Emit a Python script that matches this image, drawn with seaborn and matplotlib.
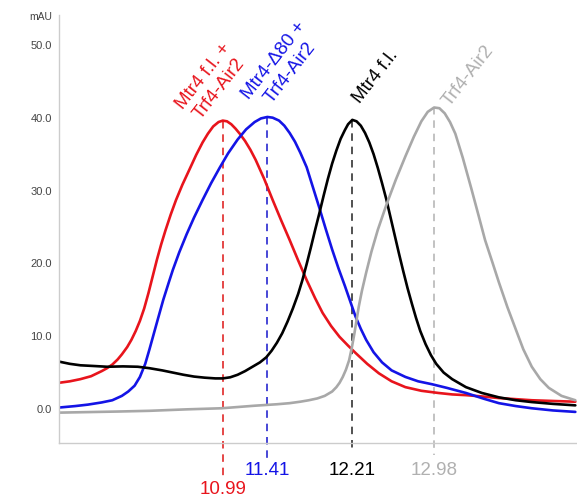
import numpy as np
import pandas as pd
import matplotlib
matplotlib.use("Agg")
import matplotlib.pyplot as plt
import seaborn as sns

# ---- data (retention time in min, absorbance in mAU) ----
red_t = [9.39, 9.45, 9.55, 9.65, 9.75, 9.85, 9.90, 9.95, 10.00, 10.04, 10.09, 10.13, 10.17, 10.21,
         10.25, 10.29, 10.33, 10.37, 10.41, 10.45, 10.50, 10.55, 10.61, 10.68, 10.74, 10.80, 10.85,
         10.90, 10.95, 10.99, 11.03, 11.07, 11.11, 11.15, 11.20, 11.25, 11.30, 11.38, 11.46, 11.54,
         11.62, 11.70, 11.78, 11.86, 11.93, 12.01, 12.09, 12.17, 12.24, 12.35, 12.46, 12.58, 12.71,
         12.86, 13.02, 13.15, 13.28, 13.45, 13.59, 13.75, 13.90, 14.10, 14.31]
red_v = [3.4, 3.6, 3.8, 4.1, 4.5, 5.2, 5.6, 6.1, 6.8, 7.5, 8.5, 9.5, 10.7, 12.1,
         13.8, 15.9, 18.2, 20.5, 22.6, 24.5, 26.7, 28.7, 30.8, 33.0, 34.9, 36.6, 37.8,
         38.8, 39.4, 39.6, 39.5, 39.1, 38.5, 37.8, 36.8, 35.6, 34.2, 31.6, 28.7, 25.9,
         23.2, 20.4, 17.7, 15.2, 13.2, 11.4, 9.9, 8.7, 7.7, 6.2, 4.9, 3.8, 3.0,
         2.5, 2.2, 2.0, 1.9, 1.7, 1.5, 1.35, 1.2, 1.1, 1.0]

blue_t = [9.39, 9.45, 9.60, 9.72, 9.85, 9.95, 10.04, 10.10, 10.16, 10.21, 10.26, 10.30, 10.34,
          10.38, 10.43, 10.48, 10.52, 10.58, 10.65, 10.72, 10.80, 10.88, 10.96, 11.04, 11.13,
          11.21, 11.29, 11.35, 11.41, 11.46, 11.52, 11.57, 11.62, 11.67, 11.72, 11.78, 11.84,
          11.90, 11.96, 12.02, 12.08, 12.14, 12.19, 12.24, 12.29, 12.34, 12.41, 12.49, 12.58,
          12.71, 12.83, 12.96, 13.10, 13.28, 13.45, 13.59, 13.75, 13.90, 14.10, 14.31]
blue_v = [0.1, 0.2, 0.4, 0.6, 0.9, 1.2, 1.8, 2.4, 3.2, 4.4, 6.2, 8.2, 10.3,
          12.4, 15.0, 17.3, 19.1, 21.5, 24.0, 26.3, 28.7, 31.0, 33.1, 35.1, 37.0,
          38.4, 39.4, 39.9, 40.1, 40.0, 39.6, 38.9, 37.9, 36.7, 35.2, 33.2, 30.4,
          27.6, 24.7, 21.9, 19.3, 16.9, 14.8, 12.7, 11.0, 9.5, 7.8, 6.4, 5.3,
          4.4, 3.8, 3.4, 2.9, 2.2, 1.4, 0.8, 0.4, 0.1, -0.2, -0.4]

black_t = [9.39, 9.45, 9.55, 9.65, 9.78, 9.90, 10.05, 10.19, 10.30, 10.42, 10.52, 10.62, 10.72,
           10.82, 10.92, 10.99, 11.06, 11.13, 11.20, 11.27, 11.34, 11.40, 11.45, 11.50, 11.55,
           11.60, 11.65, 11.70, 11.74, 11.78, 11.82, 11.86, 11.90, 11.94, 11.98, 12.02, 12.06,
           12.10, 12.14, 12.17, 12.21, 12.25, 12.29, 12.33, 12.37, 12.41, 12.45, 12.49, 12.53,
           12.57, 12.61, 12.65, 12.69, 12.73, 12.77, 12.81, 12.85, 12.90, 12.95, 13.00, 13.07,
           13.15, 13.28, 13.43, 13.59, 13.75, 13.90, 14.10, 14.31]
black_v = [6.6, 6.5, 6.2, 6.0, 5.9, 5.8, 5.85, 5.8, 5.6, 5.3, 5.0, 4.7, 4.45,
           4.3, 4.2, 4.2, 4.35, 4.7, 5.2, 5.8, 6.4, 7.1, 8.0, 9.1, 10.4,
           12.0, 13.8, 15.8, 17.7, 19.9, 22.2, 24.6, 26.9, 29.3, 31.6, 33.7, 35.5,
           37.1, 38.3, 39.1, 39.7, 39.5, 38.9, 37.9, 36.6, 35.0, 33.1, 31.0, 28.8,
           26.3, 23.8, 21.3, 18.9, 16.6, 14.5, 12.5, 10.7, 8.9, 7.4, 6.2, 5.0,
           4.1, 3.0, 2.2, 1.6, 1.2, 0.95, 0.7, 0.5]

gray_t = [9.39, 9.45, 10.00, 10.30, 10.65, 10.98, 11.29, 11.50, 11.62, 11.72, 11.80, 11.88, 11.95,
          12.02, 12.06, 12.09, 12.12, 12.15, 12.18, 12.205, 12.23, 12.25, 12.27, 12.30, 12.34,
          12.39, 12.45, 12.53, 12.62, 12.71, 12.79, 12.86, 12.92, 12.98, 13.03, 13.08, 13.13,
          13.18, 13.25, 13.33, 13.40, 13.46, 13.53, 13.59, 13.67, 13.75, 13.82, 13.90, 13.98,
          14.06, 14.18, 14.31]
gray_v = [-0.5, -0.5, -0.35, -0.25, -0.05, 0.1, 0.45, 0.65, 0.8, 1.0, 1.2, 1.45, 1.8,
          2.4, 3.0, 3.6, 4.4, 5.4, 6.7, 8.4, 10.4, 12.2, 14.0, 16.2, 18.7,
          21.6, 24.6, 28.0, 31.5, 34.7, 37.4, 39.5, 40.8, 41.4, 41.3, 40.6, 39.4,
          37.8, 34.5, 30.3, 26.5, 23.2, 20.1, 17.4, 14.0, 10.9, 8.2, 5.8, 4.1,
          2.9, 1.8, 1.2]

names = ["Mtr4 f.l. +\nTrf4-Air2", "Mtr4-\u039480 +\nTrf4-Air2", "Mtr4 f.l.", "Trf4-Air2"]
peak_times = [10.99, 11.41, 12.21, 12.98]
peak_labels = ["10.99", "11.41", "12.21", "12.98"]
y_ticks = [0, 10, 20, 30, 40, 50]
y_ticklabels = ["0.0", "10.0", "20.0", "30.0", "40.0", "50.0"]

colors = ["#e8141c", "#1414e6", "#000000", "#a8a8a8"]
dash_colors = ["#e02828", "#2828d0", "#333333", "#b8b8b8"]
text_colors = ["#e8141c", "#1414e6", "#000000", "#b0b0b0"]

series = [(red_t, red_v), (blue_t, blue_v), (black_t, black_v), (gray_t, gray_v)]

# ---- figure ----
sns.set_style("white")
plt.rcParams["font.family"] = ["Liberation Sans", "DejaVu Sans"]

fig = plt.figure(figsize=(5.77, 5.03), dpi=100)
ax = fig.add_axes([59 / 577, 60 / 503, 1 - 59 / 577 + 0.01, (443 - 15) / 503])

for (t, v), c in zip(series, colors):
    df = pd.DataFrame({"t": t, "v": v})
    sns.lineplot(data=df, x="t", y="v", ax=ax, color=c, lw=1.9, sort=False,
                 estimator=None, legend=False)

ax.set_xlim(9.448, 14.38)
ax.set_ylim(-4.67, 54.1)

# dashed peak markers, labels
dash_bottoms = [-9.5, -6.7, -6.0, -6.3]
num_y = [-11.1, -8.5, -8.5, -8.5]
name_pos = [(10.884, 44.8), (11.55, 47.0), (12.432, 45.7), (13.30, 45.7)]
for i, ((t, v), pt) in enumerate(zip(series, peak_times)):
    top = max(v)
    ax.plot([pt, pt], [top, dash_bottoms[i]], color=dash_colors[i], lw=1.2,
            ls=(0, (4.5, 3.5)), clip_on=False, zorder=1)
    ax.text(pt, num_y[i], peak_labels[i], color=text_colors[i], fontsize=13.5,
            ha="center", va="center", clip_on=False)
    ax.text(name_pos[i][0], name_pos[i][1], names[i], color=text_colors[i], fontsize=13.5,
            rotation=52, rotation_mode="anchor", ha="center", va="center",
            multialignment="center", linespacing=1.2)

ax.set_yticks(y_ticks)
ax.set_yticklabels(y_ticklabels)
ax.set_xticks([])
ax.tick_params(axis="y", length=0, pad=5, labelsize=8, labelcolor="#444444")
ax.set_xlabel("")
ax.set_ylabel("")
for s in ["top", "right"]:
    ax.spines[s].set_visible(False)
for s in ["left", "bottom"]:
    ax.spines[s].set_color("#cccccc")
    ax.spines[s].set_linewidth(1.0)

fig.text(52 / 577, 1 - 17 / 503, "mAU", ha="right", va="center", fontsize=7.5, color="#444444")

fig.savefig("out.png", dpi=100)
